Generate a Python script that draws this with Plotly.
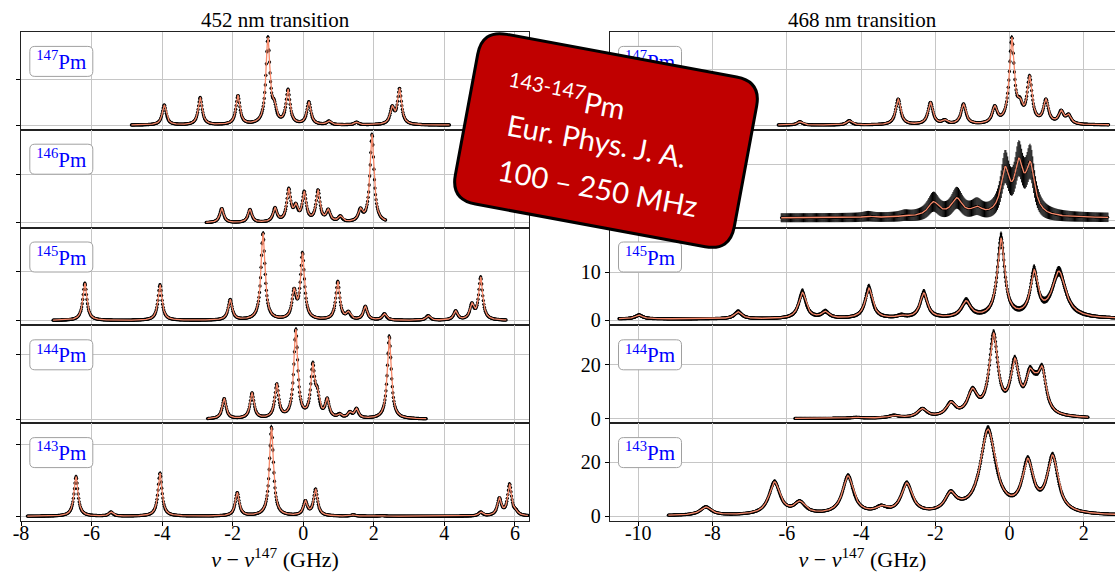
import numpy as np
import plotly.graph_objects as go

# ------------------------------------------------------------------
# Data: peak centres (GHz), peak heights (as seen
# on the fitted curve), peak half-widths (GHz), measured span, background
# ------------------------------------------------------------------
# 452 nm transition (heights in units of the first grid step)
c452_147 = [-3.94, -2.92, -1.85, -1.00, -0.82, -0.43, 0.16, 0.73, 1.51, 2.52, 2.73]
h452_147 = [0.44, 0.60, 0.645, 1.91, 0.55, 0.78, 0.51, 0.09, 0.065, 0.42, 0.80]
span452_147 = [-4.87, 4.15]

c452_146 = [-2.31, -1.51, -0.80, -0.41, -0.21, 0.03, 0.42, 0.71, 1.05, 1.62, 1.95]
h452_146 = [0.30, 0.28, 0.32, 0.72, 0.41, 0.66, 0.69, 0.29, 0.15, 0.31, 1.84]
span452_146 = [-2.75, 2.34]

c452_145 = [-6.19, -4.06, -2.07, -1.14, -0.26, -0.02, 0.98, 1.28, 1.76, 2.30, 3.54, 4.32, 4.78, 5.03]
h452_145 = [0.76, 0.73, 0.43, 1.79, 0.66, 1.39, 0.80, 0.19, 0.29, 0.14, 0.10, 0.20, 0.36, 0.89]
span452_145 = [-7.09, 5.76]

c452_144 = [-2.24, -1.45, -0.75, -0.21, 0.27, 0.40, 0.68, 1.03, 1.32, 1.51, 2.44]
h452_144 = [0.32, 0.41, 0.55, 1.40, 0.88, 0.50, 0.33, 0.09, 0.12, 0.17, 1.29]
span452_144 = [-2.71, 3.49]

c452_143 = [-6.44, -5.45, -4.06, -1.87, -0.90, 0.06, 0.35, 1.42, 2.24, 5.03, 5.56, 5.85, 6.03]
h452_143 = [0.55, 0.06, 0.60, 0.33, 1.24, 0.22, 0.38, 0.02, 0.01, 0.06, 0.26, 0.45, 0.10]
span452_143 = [-7.82, 6.37]

width452 = 0.068

# 468 nm transition
c468_147 = [-5.65, -4.32, -3.00, -2.13, -1.75, -1.24, -0.40, 0.06, 0.28, 0.54, 0.98, 1.39, 1.59]
h468_147 = [0.06, 0.08, 0.47, 0.41, 0.10, 0.38, 0.35, 1.58, 0.50, 0.89, 0.47, 0.27, 0.20]
w468_147 = [0.08] * 13
span468_147 = [-6.23, 2.68]
bg468_147 = 0.0

c468_146 = [-3.81, -2.82, -2.05, -1.42, -0.88, -0.12, 0.25, 0.56]
h468_146 = [0.07, 0.09, 0.33, 0.40, 0.25, 0.96, 1.11, 1.05]
w468_146 = [0.15, 0.15, 0.18, 0.18, 0.18, 0.14, 0.14, 0.14]
span468_146 = [-6.15, 2.66]
bg468_146 = 0.04

c468_145 = [-9.98, -7.31, -5.58, -4.96, -3.79, -2.92, -2.31, -1.17, -0.23, 0.66, 1.33]
h468_145 = [1.1, 1.8, 5.8, 1.9, 6.7, 1.2, 5.7, 4.1, 17.0, 10.5, 10.2]
w468_145 = [0.12, 0.12, 0.12, 0.12, 0.12, 0.12, 0.12, 0.15, 0.12, 0.12, 0.22]
span468_145 = [-10.52, 2.9]
bg468_145 = 0.3

c468_144 = [-4.13, -3.12, -2.35, -1.58, -1.00, -0.43, 0.14, 0.54, 0.70, 0.88, 1.60]
h468_144 = [0.5, 1.3, 3.8, 6.3, 11.3, 31.8, 22.5, 18.7, 17.0, 19.4, 1.2]
w468_144 = [0.15, 0.15, 0.15, 0.15, 0.16, 0.14, 0.14, 0.13, 0.13, 0.13, 0.40]
span468_144 = [-5.78, 2.12]
bg468_144 = 0.0

c468_143 = [-8.18, -6.33, -5.65, -4.35, -3.46, -2.77, -1.59, -1.30, -0.58, 0.49, 1.16]
h468_143 = [3.5, 12.8, 5.7, 15.0, 4.1, 12.4, 9.3, 6.5, 32.3, 21.5, 22.7]
w468_143 = [0.18, 0.18, 0.18, 0.18, 0.18, 0.18, 0.18, 0.18, 0.25, 0.18, 0.18]
span468_143 = [-9.19, 2.9]
bg468_143 = 0.2

isotopes = ["147", "146", "145", "144", "143"]

# ------------------------------------------------------------------
W, H = 1115, 577
ML, MR, MT, MB = 21, 0, 32, 56
PW, PH = W - ML - MR, H - MT - MB


def px(x):
    return (x - ML) / PW


def py(y):
    return 1 - (y - MT) / PH


def lor(x, c, g):
    return 1.0 / (1.0 + ((x - c) / g) ** 2)


def amplitudes(c, h, w, bg):
    c = np.asarray(c, float)
    h = np.asarray(h, float) - bg
    w = np.asarray(w, float)
    M = lor(c[:, None], c[None, :], w[None, :])
    act = np.ones(len(c), bool)
    a = np.zeros(len(c))
    for _ in range(30):
        a = np.zeros(len(c))
        a[act] = np.linalg.lstsq(M[:, act], h, rcond=None)[0]
        if (a[act] >= 0).all():
            break
        act &= a > 0
    return np.clip(a, 0, None)


def model(x, c, a, w, bg):
    y = np.full_like(x, bg, dtype=float)
    for ci, ai, wi in zip(c, a, w):
        y += ai * lor(x, ci, wi)
    return y


panels = [
    (0, 0, c452_147, h452_147, [width452] * len(c452_147), span452_147, 0.0, 0.035, 0.005),
    (0, 1, c452_146, h452_146, [width452] * len(c452_146), span452_146, 0.0, 0.035, 0.005),
    (0, 2, c452_145, h452_145, [width452] * len(c452_145), span452_145, 0.0, 0.035, 0.005),
    (0, 3, c452_144, h452_144, [width452] * len(c452_144), span452_144, 0.0, 0.035, 0.005),
    (0, 4, c452_143, h452_143, [width452] * len(c452_143), span452_143, 0.0, 0.035, 0.005),
    (1, 0, c468_147, h468_147, w468_147, span468_147, bg468_147, 0.035, 0.005),
    (1, 1, c468_146, h468_146, w468_146, span468_146, bg468_146, 0.3, 0.03),
    (1, 2, c468_145, h468_145, w468_145, span468_145, bg468_145, 0.33, 0.4),
    (1, 3, c468_144, h468_144, w468_144, span468_144, bg468_144, 0.25, 0.4),
    (1, 4, c468_143, h468_143, w468_143, span468_143, bg468_143, 0.25, 0.4),
]

yranges = [
    [-0.102, 2.022], [-0.097, 1.932], [-0.101, 1.897], [-0.0625, 1.458], [-0.066, 1.293],
    [-0.085, 1.673], [-0.134, 1.616], [-1.03, 19.2], [-1.7, 34.6], [-1.75, 34.5],
]
ytickvals = [
    [0, 1], [0, 1], [0, 1], [0, 1], [0, 1],
    [0, 1], [0, 1], [0, 10], [0, 20], [0, 20],
]

FIT = "#f7896a"
SERIF = "Liberation Serif, Times New Roman, serif"

fig = go.Figure()
x_dom = [[0, px(529)], [px(609.7), 1.0]]

for idx, (col, k, c, h, w, span, bg, ek, eb) in enumerate(panels):
    n = idx + 1
    xa = "x" if n == 1 else f"x{n}"
    ya = "y" if n == 1 else f"y{n}"
    a = amplitudes(c, h, w, bg)
    step = 0.025 if idx == 6 else 0.015
    xd = np.arange(span[0], span[1], step)
    yd = model(xd, c, a, w, bg)
    err = ek * np.sqrt(np.maximum(yd, 0) + eb)
    xf = np.arange(span[0], span[1], 0.004)
    yf = model(xf, c, a, w, bg)
    fig.add_trace(go.Scatter(
        x=xd, y=yd, mode="markers", xaxis=xa, yaxis=ya,
        marker=dict(color="black", size=3.3 if idx != 6 else 2.5),
        error_y=dict(type="data", array=err, visible=True, color="black",
                     thickness=1.2 if idx != 6 else 1.0, width=0),
        showlegend=False, hoverinfo="skip"))
    fig.add_trace(go.Scatter(
        x=xf, y=yf, mode="lines", xaxis=xa, yaxis=ya,
        line=dict(color=FIT, width=1.3), showlegend=False, hoverinfo="skip"))

    bottom = (k == 4)
    if col == 0:
        xr, tv = [-8, 6.4], list(range(-8, 7, 2))
    else:
        xr, tv = [-10.77, 2.84], list(range(-10, 3, 2))
    xaxis = dict(
        domain=x_dom[col], anchor=ya, range=xr,
        tickvals=tv, ticktext=[str(t) if t >= 0 else "-" + str(-t) for t in tv],
        showticklabels=bottom, ticks="outside" if bottom else "", ticklen=4, tickcolor="black",
        ticklabelstandoff=-10 if bottom else 0,
        showgrid=True, gridcolor="#c6c6c6", gridwidth=1, zeroline=False,
        showline=True, mirror=True, linecolor="#222", linewidth=1,
        tickfont=dict(family=SERIF, size=20, color="black"),
    )
    if bottom:
        xaxis["title"] = dict(text="<i>ν</i> − <i>ν</i><sup>147</sup> (GHz)",
                              font=dict(family=SERIF, size=22, color="black"), standoff=0)
    ydom = [0.8 - 0.2 * k, 1.0 - 0.2 * k]
    show_ylab = (col == 1 and k >= 2)
    yaxis = dict(
        domain=ydom, anchor=xa, range=yranges[idx], tickvals=ytickvals[idx],
        showticklabels=show_ylab, ticks="outside", ticklen=4, tickcolor="black",
        showgrid=True, gridcolor="#c6c6c6", gridwidth=1, zeroline=False,
        showline=True, mirror=True, linecolor="#222", linewidth=1,
        tickfont=dict(family=SERIF, size=20, color="black"),
    )
    fig.layout[("xaxis" if n == 1 else f"xaxis{n}")] = xaxis
    fig.layout[("yaxis" if n == 1 else f"yaxis{n}")] = yaxis


def rrect(x0, y0, x1, y1, r):
    return (f"M {px(x0 + r)},{py(y0)} L {px(x1 - r)},{py(y0)} Q {px(x1)},{py(y0)} {px(x1)},{py(y0 + r)} "
            f"L {px(x1)},{py(y1 - r)} Q {px(x1)},{py(y1)} {px(x1 - r)},{py(y1)} "
            f"L {px(x0 + r)},{py(y1)} Q {px(x0)},{py(y1)} {px(x0)},{py(y1 - r)} "
            f"L {px(x0)},{py(y0 + r)} Q {px(x0)},{py(y0)} {px(x0 + r)},{py(y0)} Z")


shapes = []
frame_left = [21.0, 609.7]
for col in range(2):
    for k in range(5):
        top = MT + k * PH / 5
        x0 = frame_left[col] + 8.8
        x1 = x0 + 63
        y0 = top + 14.4
        y1 = y0 + 30
        shapes.append(dict(type="path", xref="paper", yref="paper", path=rrect(x0, y0, x1, y1, 5),
                           fillcolor="white", line=dict(color="#a0a0a0", width=1), layer="above"))
        shapes.append(dict(type="rect", xref="paper", yref="paper",
                           x0=px(x0), x1=px(x1), y0=py(y1), y1=py(y0),
                           line=dict(width=0), fillcolor="rgba(0,0,0,0)", layer="above",
                           label=dict(text=f"<sup>{isotopes[k]}</sup>Pm", textposition="middle center",
                                      font=dict(family=SERIF, size=21, color="#0000ff"))))

# rotated red label box
cx, cy, bw, bh, br, th = 606.0, 140.5, 283.7, 172.6, 25.0, np.deg2rad(10.5)
ct, st = np.cos(th), np.sin(th)


def T(u, v):
    return px(cx + u * ct - v * st), py(cy + u * st + v * ct)


hw, hh = bw / 2, bh / 2
segs = [("M", [(-hw + br, -hh)]), ("L", [(hw - br, -hh)]), ("Q", [(hw, -hh), (hw, -hh + br)]),
        ("L", [(hw, hh - br)]), ("Q", [(hw, hh), (hw - br, hh)]), ("L", [(-hw + br, hh)]),
        ("Q", [(-hw, hh), (-hw, hh - br)]), ("L", [(-hw, -hh + br)]), ("Q", [(-hw, -hh), (-hw + br, -hh)])]
path = ""
for cmd, pts in segs:
    path += cmd + " " + " ".join("%.5f,%.5f" % T(u, v) for u, v in pts) + " "
path += "Z"
shapes.append(dict(type="path", xref="paper", yref="paper", path=path,
                   fillcolor="#c00000", line=dict(color="black", width=3), layer="above"))

annotations = [
    dict(text="452 nm transition", x=px(275), y=py(20), xref="paper", yref="paper",
         showarrow=False, font=dict(family=SERIF, size=21, color="black"), xanchor="center", yanchor="middle"),
    dict(text="468 nm transition", x=px(862), y=py(20), xref="paper", yref="paper",
         showarrow=False, font=dict(family=SERIF, size=21, color="black"), xanchor="center", yanchor="middle"),
]
box_lines = [("<sup>143-147</sup>Pm", 566.3, 96.0), ("Eur. Phys. J. A.", 597.3, 140.4),
             ("100 – 250 MHz", 598.2, 187.4)]
for txt, xx, yy in box_lines:
    annotations.append(dict(text=txt, x=px(xx), y=py(yy), xref="paper", yref="paper", showarrow=False,
                            textangle=10.5, xanchor="center", yanchor="middle",
                            font=dict(family="Lato", size=29, color="white")))

fig.update_layout(
    width=W, height=H, margin=dict(l=ML, r=MR, t=MT, b=MB),
    paper_bgcolor="white", plot_bgcolor="white",
    shapes=shapes, annotations=annotations, showlegend=False,
)
fig.write_html("out.html")
